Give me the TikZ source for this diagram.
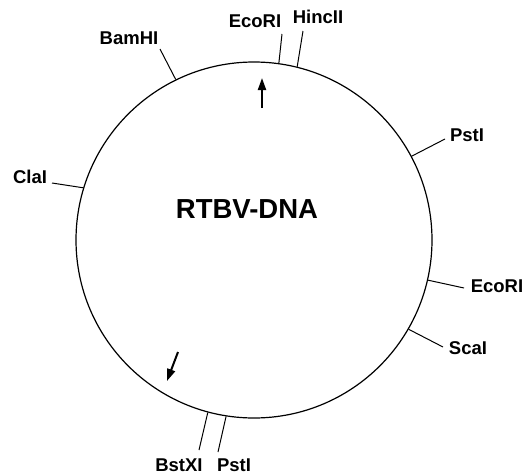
\documentclass[tikz,border=0pt]{standalone}
\usepackage{fontspec}
\setmainfont{Liberation Sans}
\usetikzlibrary{arrows.meta}
\begin{document}
\begin{tikzpicture}[x=1pt,y=-1pt,
  site/.style={font=\bfseries\fontsize{18.5}{20}\selectfont, inner sep=0pt},
  tick/.style={line width=1pt},
  dirarrow/.style={line width=2pt,-{Triangle[length=12pt,width=8pt]}}]
\useasboundingbox (0,0) rectangle (528,474);
\node[circle, draw, line width=1.2pt, minimum size=356pt, inner sep=0pt] (c) at (254,240) {};
\node[font=\bfseries\fontsize{27.5}{30}\selectfont, inner sep=0pt] (title) at (247,209) {RTBV-DNA};
% labels
\node[site] (ecotop) at (255,21) {EcoRI};
\node[site] (hinc) at (318,17) {HincII};
\node[site] (bam) at (129,38) {BamHI};
\node[site] (pstr) at (467,135) {PstI};
\node[site] (ecor) at (497,286) {EcoRI};
\node[site] (sca) at (468,348) {ScaI};
\node[site] (bst) at (179,465) {BstXI};
\node[site] (pstb) at (234,465) {PstI};
\node[site] (cla) at (30,177) {ClaI};
% tick ends
\coordinate (eEcoTop) at (282,34);
\coordinate (eHinc) at (303,31);
\coordinate (eBam) at (160,49);
\coordinate (ePstR) at (445,139);
\coordinate (eEcoR) at (464,288);
\coordinate (eSca) at (443,347);
\coordinate (eBst) at (199,450);
\coordinate (ePstB) at (218,452);
\coordinate (eCla) at (52,183);
\draw[tick] (c.82) -- (eEcoTop);
\draw[tick] (c.76) -- (eHinc);
\draw[tick] (c.116) -- (eBam);
\draw[tick] (c.28) -- (ePstR);
\draw[tick] (c.-13.6) -- (eEcoR);
\draw[tick] (c.-30) -- (eSca);
\draw[tick] (c.-105) -- (eBst);
\draw[tick] (c.-99) -- (ePstB);
\draw[tick] (c.163) -- (eCla);
% direction arrows
\coordinate (a1s) at (262,108);
\coordinate (a1e) at (262,78);
\coordinate (a2s) at (178,352);
\coordinate (a2e) at (167,381);
\draw[dirarrow] (a1s) -- (a1e);
\draw[dirarrow] (a2s) -- (a2e);
\end{tikzpicture}
\end{document}
